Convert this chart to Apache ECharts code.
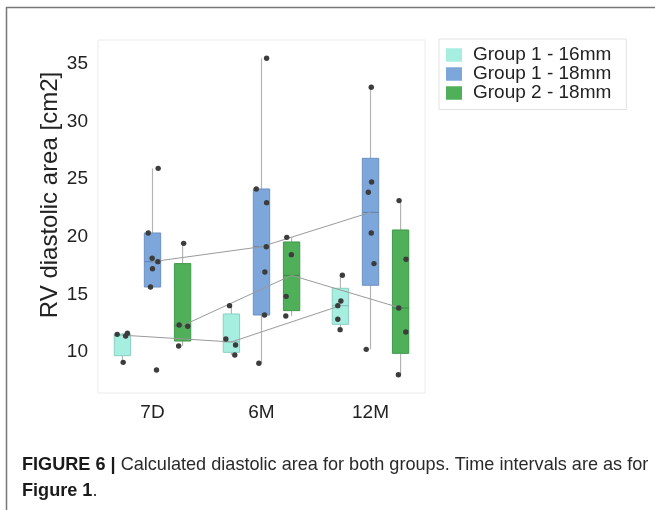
<!DOCTYPE html>
<html><head><meta charset="utf-8">
<script src="https://cdn.jsdelivr.net/npm/echarts@6/dist/echarts.min.js"></script>
<style>html,body{margin:0;padding:0;background:#fff}#c{width:655px;height:510px}</style>
</head><body><div id="c"></div>
<script>
// ---------------- data ----------------
const categories = ['7D', '6M', '12M'];
const groupNames = ['Group 1 - 16mm', 'Group 1 - 18mm', 'Group 2 - 18mm'];
const yTicks = [10, 15, 20, 25, 30, 35];
const yTitle = 'RV diastolic area [cm2]';

// box statistics per time point: [lower whisker, q1, median, q3, upper whisker]
const boxG1_16 = [[9.10, 9.68, 11.46, 11.56, 11.62], [9.74, 9.97, 10.87, 13.30, 14.02], [11.94, 12.40, 14.02, 15.53, 16.66]];
const boxG1_18 = [[15.64, 15.64, 17.84, 20.33, 25.94], [9.02, 13.21, 19.14, 24.15, 35.49], [10.23, 15.79, 22.12, 26.81, 32.98]];
const boxG2_18 = [[10.52, 10.95, 12.29, 17.67, 19.43], [13.13, 13.59, 16.65, 19.55, 19.95], [8.03, 9.88, 13.82, 20.59, 23.14]];

// individual observations per time point
const ptsG1_16 = [[9.10, 11.39, 11.53, 11.62], [14.02, 11.13, 10.61, 9.74], [16.66, 14.43, 14.02, 12.84, 11.94]];
const ptsG1_18 = [[25.94, 20.33, 18.13, 17.84, 17.23, 15.64, 8.44], [35.49, 24.15, 22.96, 19.14, 16.94, 13.21, 9.02], [32.98, 24.76, 23.86, 20.33, 17.67, 10.23]];
const ptsG2_18 = [[19.43, 12.34, 12.23, 10.52], [19.95, 18.45, 14.83, 13.13], [23.14, 18.05, 13.82, 11.74, 8.03]];
// strip-plot jitter of each observation (category-axis units)
const jitG1_16 = [[0.007, 0.030, -0.048, 0.046], [-0.017, -0.051, 0.038, 0.031], [0.018, 0.004, -0.024, -0.024, -0.003]];
const jitG1_18 = [[0.052, -0.039, -0.003, 0.049, 0.000, -0.018, 0.037], [0.047, -0.048, 0.047, 0.044, 0.031, 0.028, -0.024], [0.007, 0.010, -0.020, 0.007, 0.032, -0.039]];
const jitG2_18 = [[0.010, -0.032, 0.047, -0.036], [-0.044, -0.002, -0.050, -0.053], [-0.014, 0.050, -0.017, 0.048, -0.020]];

// ---------------- styling ----------------
const FONT = "'Liberation Sans', Arial, Helvetica, sans-serif";
const fills = ['#a6eee0', '#7da7da', '#50b05a'];
const strokes = ['#8ccfc2', '#6a90c2', '#3f9849'];
const medians = ['#86bdb2', '#5e82b4', '#3b8a44'];
const OFFS = [-0.276, 0, 0.276];
const BOXW = 0.15;

const boxes = [boxG1_16, boxG1_18, boxG2_18];
const pts = [ptsG1_16, ptsG1_18, ptsG2_18];
const jits = [jitG1_16, jitG1_18, jitG2_18];

function boxSeries(g) {
  return {
    name: groupNames[g], type: 'custom', z: 2,
    itemStyle: { color: fills[g] },
    data: boxes[g].map((b, i) => [i].concat(b)),
    renderItem: function (params, api) {
      const ci = api.value(0);
      const bw = api.size([1, 0])[0];
      const cx = api.coord([ci, api.value(3)])[0] + OFFS[g] * bw;
      const w = BOXW * bw;
      const y = k => api.coord([ci, api.value(k)])[1];
      const yMin = y(1), yQ1 = y(2), yMed = y(3), yQ3 = y(4), yMax = y(5);
      const ws = { stroke: '#b4b4b4', lineWidth: 1.2 };
      return {
        type: 'group', children: [
          { type: 'line', shape: { x1: cx, y1: yMax, x2: cx, y2: yQ3 }, style: ws },
          { type: 'line', shape: { x1: cx, y1: yQ1, x2: cx, y2: yMin }, style: ws },
          { type: 'rect', shape: { x: cx - w / 2, y: yQ3, width: w, height: yQ1 - yQ3 }, style: { fill: fills[g], stroke: strokes[g], lineWidth: 1 } },
          { type: 'line', shape: { x1: cx - w / 2, y1: yMed, x2: cx + w / 2, y2: yMed }, style: { stroke: medians[g], lineWidth: 1 } }
        ]
      };
    }
  };
}

function lineSeries(g) {
  return {
    type: 'custom', z: 3, silent: true,
    data: [[0]],
    renderItem: function (params, api) {
      const bw = api.size([1, 0])[0];
      const points = boxes[g].map((b, i) => {
        const p = api.coord([i, b[2]]);
        return [p[0] + OFFS[g] * bw, p[1]];
      });
      return { type: 'polyline', shape: { points: points }, style: { stroke: '#9a9a9a', lineWidth: 1, fill: null } };
    }
  };
}

function pointSeries(g) {
  const data = [];
  pts[g].forEach((arr, i) => arr.forEach((v, k) => data.push([i, v, jits[g][i][k]])));
  return {
    type: 'custom', z: 4, silent: true,
    data: data,
    renderItem: function (params, api) {
      const bw = api.size([1, 0])[0];
      const p = api.coord([api.value(0), api.value(1)]);
      return { type: 'circle', shape: { cx: p[0] + (OFFS[g] + api.value(2)) * bw, cy: p[1], r: 2.7 }, style: { fill: '#3c3c3c' } };
    }
  };
}

const chart = echarts.init(document.getElementById('c'), null, { renderer: 'canvas' });
chart.setOption({
  animation: false,
  backgroundColor: '#fff',
  textStyle: { fontFamily: FONT },
  grid: { left: 98, right: 230, top: 40, bottom: 117, show: true, borderColor: '#ebebeb', borderWidth: 1, backgroundColor: '#fff' },
  legend: {
    orient: 'vertical', left: 439, top: 39, selectedMode: false,
    itemWidth: 16, itemHeight: 13.5, itemGap: 0,
    padding: [6.5, 15, 7, 7],
    borderColor: '#e2e2e2', borderWidth: 1,
    textStyle: { fontSize: 19, color: '#222', lineHeight: 18.8, fontFamily: FONT, padding: [0, 0, 0, 6] },
    data: groupNames.map((n, g) => ({ name: n, icon: 'rect', itemStyle: { color: fills[g], borderWidth: 0 } }))
  },
  xAxis: {
    type: 'category', data: categories, boundaryGap: true,
    axisLine: { show: false }, axisTick: { show: false }, splitLine: { show: false },
    axisLabel: { fontSize: 19, color: '#222', margin: 10, fontFamily: FONT }
  },
  yAxis: {
    type: 'value', min: 6.44, max: 37.08,
    axisLine: { show: false }, axisTick: { show: false }, splitLine: { show: false },
    axisLabel: {
      fontSize: 19, color: '#222', margin: 10, fontFamily: FONT, showMinLabel: false, showMaxLabel: false,
      formatter: v => (yTicks.indexOf(Math.round(v * 1000) / 1000) >= 0 ? String(Math.round(v)) : '')
    }
  },
  series: [0, 1, 2].map(boxSeries).concat([0, 1, 2].map(lineSeries)).concat([0, 1, 2].map(pointSeries)),
  graphic: [
    { type: 'line', shape: { x1: 6, y1: 7.5, x2: 655, y2: 7.5 }, style: { stroke: '#777', lineWidth: 1.5 } },
    { type: 'line', shape: { x1: 6.5, y1: 7, x2: 6.5, y2: 510 }, style: { stroke: '#777', lineWidth: 1.5 } },
    {
      type: 'text', x: 50, y: 195, rotation: Math.PI / 2,
      style: { text: yTitle, fontSize: 24, fontFamily: FONT, fill: '#222', align: 'center', verticalAlign: 'middle' }
    },
    {
      type: 'text', x: 22, y: 455, scaleX: 0.953,
      style: {
        text: '{b|FIGURE 6 |}{n| Calculated diastolic area for both groups. Time intervals are as for}',
        rich: {
          b: { fontWeight: 'bold', fontSize: 19, fontFamily: FONT, fill: '#1a1a1a' },
          n: { fontSize: 19, fontFamily: FONT, fill: '#2a2a2a' }
        },
        fontSize: 19, fontFamily: FONT
      }
    },
    {
      type: 'text', x: 22, y: 481, scaleX: 0.953,
      style: {
        text: '{b|Figure 1}{n|.}',
        rich: {
          b: { fontWeight: 'bold', fontSize: 19, fontFamily: FONT, fill: '#1a1a1a' },
          n: { fontSize: 19, fontFamily: FONT, fill: '#2a2a2a' }
        },
        fontSize: 19, fontFamily: FONT
      }
    }
  ]
});
</script>
</body></html>
